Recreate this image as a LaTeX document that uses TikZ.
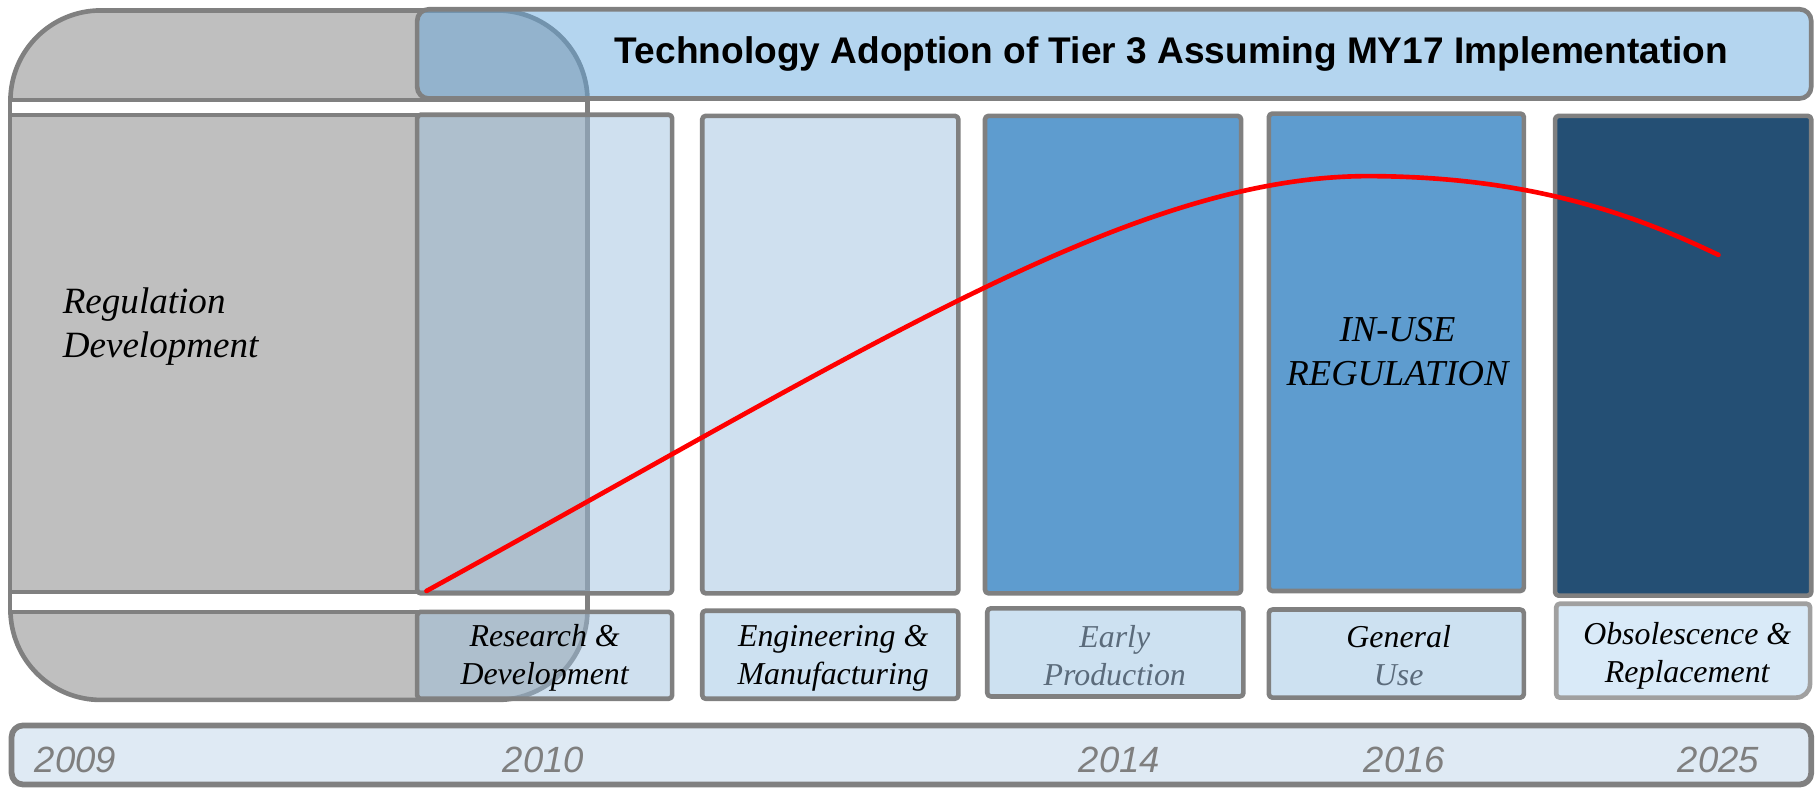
\documentclass[tikz,border=0pt]{standalone}
\usepackage{fontspec}
\setmainfont{Liberation Serif}
\newfontfamily\sansf{Liberation Sans}
\definecolor{bordergray}{HTML}{808080}
\definecolor{regray}{HTML}{BFBFBF}
\definecolor{hdrblue}{HTML}{64A8DE}
\definecolor{lightcol}{HTML}{9CBFDE}
\definecolor{palecol}{HTML}{CFE0EF}
\definecolor{midblue}{HTML}{5E9CCF}
\definecolor{navy}{HTML}{244F74}
\definecolor{lblfill}{HTML}{CDE1F1}
\definecolor{obsfill}{HTML}{D9EAF8}
\definecolor{obsborder}{HTML}{A0A0A0}
\definecolor{tlfill}{HTML}{DFEAF4}
\definecolor{slate}{HTML}{5B6B7B}
\definecolor{yeargray}{HTML}{7F7F7F}
\tikzset{
  boxst/.style={draw=bordergray, line width=4pt, rounded corners=3pt},
  seethru/.style={fill=lightcol, fill opacity=0.484},
  lbltext/.style={font=\fontsize{27.5}{33}\selectfont\itshape, align=center, inner sep=0pt},
  yeartext/.style={font=\sansf\itshape\fontsize{31.5}{36}\selectfont, text=yeargray, inner sep=0pt},
}
\begin{document}
\begin{tikzpicture}[x=1pt,y=-1pt,line join=round]
\useasboundingbox (0,0) rectangle (1568,681);
% regulation development shape
\draw[bordergray, line width=4pt, fill=regray, rounded corners=78pt] (9,9) rectangle (507,604);
\draw[bordergray, line width=3.5pt, fill=white] (9,86) rectangle (507,528);
\draw[bordergray, line width=3.5pt, fill=regray] (9,99) rectangle (507,511);
% header
\draw[bordergray, line width=4pt, fill=hdrblue, fill opacity=0.484, rounded corners=10pt] (360,8) rectangle (1563,85);
% columns
\draw[boxst, seethru] (360,99) rectangle (580,512);
\draw[boxst, fill=palecol] (606,100) rectangle (827,512);
\draw[boxst, fill=midblue] (850,100) rectangle (1071,512);
\draw[boxst, fill=midblue] (1095,98) rectangle (1315,510);
\draw[boxst, fill=navy] (1342,100) rectangle (1563,514);
% label boxes
\draw[boxst, seethru] (360,528) rectangle (580,603);
\draw[boxst, fill=lblfill] (606,527) rectangle (827,603);
\draw[boxst, fill=lblfill] (852,525) rectangle (1073,601);
\draw[boxst, fill=lblfill] (1095,526) rectangle (1315,602);
\draw[draw=obsborder, line width=4pt, fill=obsfill, rounded corners=3pt]
  (1343,521) -- (1562,521) [rounded corners=12pt] -- (1562,602) [rounded corners=3pt] -- (1343,602) -- cycle;
% timeline
\draw[bordergray, line width=5pt, fill=tlfill, rounded corners=10pt] (10,626) rectangle (1563,677);
% adoption curve
\draw[red, line width=4pt, line cap=round] (368,510) .. controls (750,300) and (980,150) .. (1185,152)
  .. controls (1330,153) and (1420,190) .. (1483,220);
% texts
\node[font=\sansf\bfseries\fontsize{32}{38}\selectfont, inner sep=0pt] (title) at (1011,47) {Technology Adoption of Tier 3 Assuming MY17 Implementation};
\node[font=\fontsize{32}{38}\selectfont\itshape, align=left, anchor=west, inner sep=0pt] (regdev) at (54,282) {Regulation\\Development};
\node[font=\fontsize{31.5}{38}\selectfont\itshape, align=center, inner sep=0pt] (inuse) at (1206,303) {IN-USE\\REGULATION};
\node[lbltext] (rd) at (470,568) {Research \&\\Development};
\node[lbltext] (eng) at (719,568) {Engineering \&\\Manufacturing};
\node[lbltext, text=slate] (early) at (962,566) {Early\\Production};
\node[lbltext] (general) at (1207,566) {General\\\textcolor{slate}{Use}};
\node[lbltext] (obs) at (1456,566) {Obsolescence \&\\Replacement};
\node[yeartext] (y2009) at (65,656) {2009};
\node[yeartext] (y2010) at (469,656) {2010};
\node[yeartext] (y2014) at (966,656) {2014};
\node[yeartext] (y2016) at (1212,656) {2016};
\node[yeartext] (y2025) at (1483,656) {2025};
\end{tikzpicture}
\end{document}
